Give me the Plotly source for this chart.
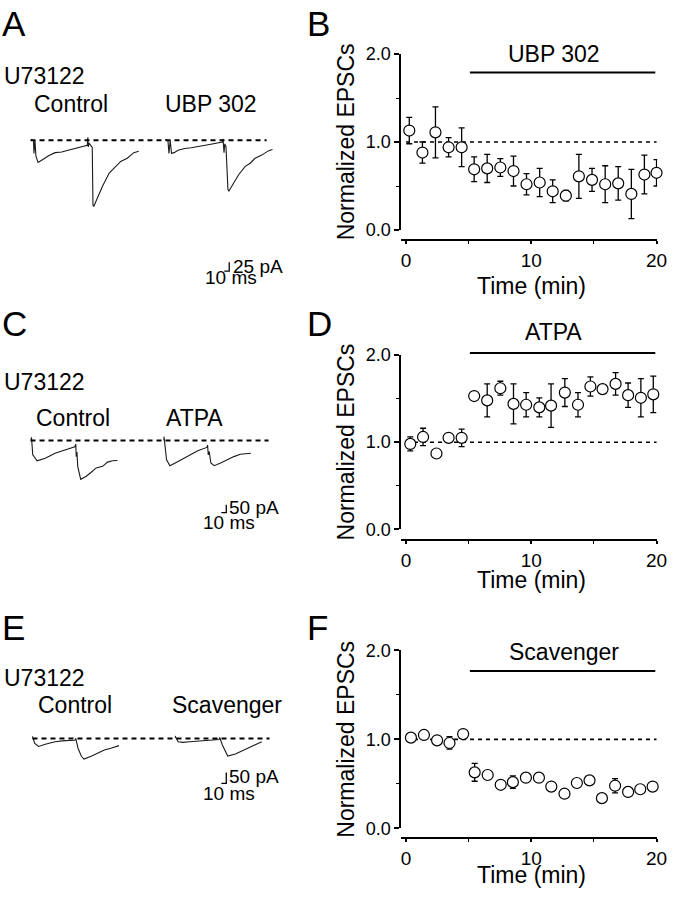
import plotly.graph_objects as go

W, H = 677, 900
FONT = "Liberation Sans, Arial, sans-serif"

# ---------------- EPSC time courses (normalized, mean +/- SEM) ----------------
UBP_TIME = [0.26, 1.31, 2.35, 3.40, 4.44, 5.44, 6.48, 7.53, 8.58, 9.62,
            10.67, 11.71, 12.76, 13.80, 14.85, 15.90, 16.94, 17.99, 19.03, 20.0]
UBP_MEAN = [1.13, 0.88, 1.11, 0.94, 0.94, 0.69, 0.70, 0.71, 0.67, 0.52,
            0.54, 0.44, 0.39, 0.61, 0.57, 0.52, 0.53, 0.41, 0.63, 0.65]
UBP_SEM = [0.15, 0.12, 0.29, 0.11, 0.22, 0.14, 0.16, 0.10, 0.17, 0.12,
           0.16, 0.13, 0.06, 0.25, 0.13, 0.21, 0.19, 0.28, 0.22, 0.15]

ATPA_TIME = [0.34, 1.36, 2.43, 3.40, 4.44, 5.44, 6.48, 7.53, 8.58, 9.59,
             10.64, 11.58, 12.68, 13.73, 14.72, 15.69, 16.73, 17.73, 18.75, 19.74]
ATPA_MEAN = [0.98, 1.06, 0.87, 1.05, 1.05, 1.53, 1.48, 1.62, 1.44, 1.43,
             1.40, 1.42, 1.57, 1.43, 1.64, 1.61, 1.67, 1.54, 1.51, 1.55]
ATPA_SEM = [0.08, 0.10, 0.02, 0.02, 0.10, 0.02, 0.19, 0.08, 0.23, 0.14,
            0.11, 0.25, 0.16, 0.14, 0.11, 0.02, 0.13, 0.14, 0.22, 0.21]

SCAV_TIME = [0.39, 1.43, 2.48, 3.47, 4.56, 5.48, 6.52, 7.56, 8.53, 9.57,
             10.61, 11.60, 12.65, 13.64, 14.65, 15.64, 16.69, 17.73, 18.70, 19.69]
SCAV_MEAN = [1.02, 1.05, 0.99, 0.96, 1.06, 0.63, 0.60, 0.49, 0.52, 0.57,
             0.57, 0.47, 0.39, 0.51, 0.54, 0.34, 0.48, 0.41, 0.44, 0.47]
SCAV_SEM = [0.02, 0.04, 0.02, 0.07, 0.02, 0.10, 0.02, 0.02, 0.07, 0.02,
            0.02, 0.02, 0.02, 0.02, 0.02, 0.02, 0.08, 0.05, 0.02, 0.02]

DRUG_START, DRUG_END = 5.1, 19.9      # min, drug application window
BASELINE_NORM = 1.0
TIME_LIMITS = [0, 20]
X_TICKS = [0, 10, 20]
Y_TICKS = [0.0, 1.0, 2.0]

# ---------------- Example sweeps (time in ms, current in pA) ----------------
A_CTRL_T = [0, 6, 7, 9, 11, 15.4, 23.4, 36.6, 50, 63.4, 76.6, 90, 103.4, 115.4,
            116.6, 117.6, 119, 125.5, 127, 128.6, 136.6, 146.6, 160, 170, 183.4,
            196.6, 210, 220]
A_CTRL_I = [2, 0, -37, 0, -45, -63, -56, -44, -35, -33, -28, -23, -19, -14,
            9, -19, -8, -20, -185, -188, -162, -130, -93, -79, -60,
            -51, -35, -31]
A_UBP_T = [0, 6, 8, 10.6, 13.2, 18.6, 26.6, 40, 53.2, 73.2, 93.2, 116.6, 118,
           120, 121.6, 124, 128, 130, 140, 150, 163.2, 173.2, 183.2, 196.6, 210, 218.6]
A_UBP_I = [2, 0, -37, 0, -37, -35, -28, -23, -21, -17, -11, -5, 4,
           -35, -10, -18, -140, -144, -121, -97, -74, -65, -51, -42, -30, -26]

C_CTRL_T = [0, 2, 4.6, 13.4, 30, 50, 70, 90, 92, 93, 94.4, 96, 102, 113.4,
            123.4, 133.4, 146.6, 156.6, 166.6, 176.6]
C_CTRL_I = [0, 20, -92, -130, -113, -81, -61, -40, -23, -103, -73, -165, -248, -228,
            -203, -175, -165, -138, -129, -128]
C_ATPA_T = [0, 1.4, 6.6, 13.4, 30, 50, 70, 88.6, 90, 91.4, 93.4, 96.6, 103.4,
            116.6, 130, 143.4, 156.6, 170, 178]
C_ATPA_I = [0, 25, -123, -161, -134, -98, -65, -44, -29, -92, -71, -144, -161,
            -144, -123, -103, -88, -81, -81]

E_CTRL_T = [0, 0.6, 5.2, 13.2, 26.6, 46.6, 66.6, 86.6, 88.6, 93.2, 100, 105.2,
            120, 133.2, 146.6, 160, 176.6]
E_CTRL_I = [3, 9, -23, -37, -27, -15, -10, -8, 0, -45, -82, -95,
            -82, -68, -53, -45, -33]
E_SCAV_T = [0, 0.6, 6.6, 16.6, 30, 50, 70, 90, 91.2, 96.6, 103.2, 107.6,
            123.2, 136.6, 150, 163.2, 176.6]
E_SCAV_I = [3, 11, -15, -18, -15, -10, -8, -5, 5, -30, -60, -81,
            -72, -57, -42, -27, -15]

SCALE_MS = 10
SCALE_PA = [25, 50, 50]

# ---------------- layout helpers ----------------
def px_x(x):
    return x / W


def px_y(y):
    return 1 - y / H


layout = dict(width=W, height=H, margin=dict(l=0, r=0, t=0, b=0),
              paper_bgcolor="white", plot_bgcolor="rgba(0,0,0,0)",
              showlegend=False, font=dict(family=FONT, color="black"))
fig = go.Figure()
annotations = []
shapes = []


def txt(x, y, s, size, xanchor="left", angle=0):
    annotations.append(dict(
        x=px_x(x), y=px_y(y), xref="paper", yref="paper",
        text=s, showarrow=False, xanchor=xanchor, yanchor="middle",
        textangle=angle, font=dict(family=FONT, size=size, color="black")))


# EPSC panels -----------------------------------------------------------
epsc_rows = [
    # (time, mean, sem, drug, y0px, y2px, xline_px, bar_px, label_px, label_x, title_px)
    (UBP_TIME, UBP_MEAN, UBP_SEM, "UBP 302", 225, 45, 235, 64, 45.5, 11.8, 282),
    (ATPA_TIME, ATPA_MEAN, ATPA_SEM, "ATPA", 531, 353, 542, 350.7, 329, 11.8, 583),
    (SCAV_TIME, SCAV_MEAN, SCAV_SEM, "Scavenger", 837, 655, 847, 676, 657, 12.6, 885),
]
X_LEFT_PX, X_RIGHT_PX = 407, 667

for i, (t, m, s, drug, y0px, y2px, xline, barpx, labpx, labx, titlepx) in enumerate(epsc_rows):
    n = i + 1
    sfx = "" if n == 1 else str(n)
    xa, ya = "x" + sfx, "y" + sfx
    layout["xaxis" + sfx] = dict(
        domain=[px_x(X_LEFT_PX), px_x(X_RIGHT_PX)], range=[-0.37, 20.05],
        anchor="free", position=px_y(xline),
        showline=True, linewidth=2, linecolor="black", mirror=False,
        ticks="outside", ticklen=3, tickwidth=1.5, tickcolor="black",
        tickmode="array", tickvals=X_TICKS, ticktext=[str(v) for v in X_TICKS],
        tickfont=dict(family=FONT, size=19, color="black"),
        ticklabeloverflow="allow",
        minor=dict(tickvals=[5, 15], ticks="outside", ticklen=3, tickwidth=1.2,
                   tickcolor="black"),
        showgrid=False, zeroline=False, fixedrange=True)
    layout["yaxis" + sfx] = dict(
        domain=[px_y(y0px), px_y(y2px)], range=[0, 2], anchor=xa,
        showline=True, linewidth=2, linecolor="black",
        ticks="outside", ticklen=5, tickwidth=1.5, tickcolor="black",
        tickmode="array", tickvals=Y_TICKS, ticktext=["%.1f" % v for v in Y_TICKS],
        tickfont=dict(family=FONT, size=18, color="black"),
        ticklabeloverflow="allow",
        minor=dict(tickvals=[0.5, 1.5], ticks="outside", ticklen=3, tickwidth=1.2,
                   tickcolor="black"),
        showgrid=False, zeroline=False, fixedrange=True)
    # baseline dashed line
    fig.add_trace(go.Scatter(x=TIME_LIMITS, y=[BASELINE_NORM] * 2, mode="lines",
                             xaxis=xa, yaxis=ya, hoverinfo="skip",
                             line=dict(color="black", width=1.6, dash="4px,4px")))
    fig.add_trace(go.Scatter(
        x=t, y=m, mode="markers", xaxis=xa, yaxis=ya, cliponaxis=False,
        error_y=dict(type="data", array=s, visible=True, color="black",
                     thickness=1.3, width=3),
        marker=dict(symbol="circle", size=11, color="white",
                    line=dict(color="black", width=1.2))))
    # drug application bar and label
    shapes.append(dict(type="line", xref=xa, yref="paper", x0=DRUG_START, x1=DRUG_END,
                       y0=px_y(barpx), y1=px_y(barpx),
                       line=dict(color="black", width=2)))
    annotations.append(dict(x=labx, y=px_y(labpx), xref=xa, yref="paper", text=drug,
                            showarrow=False, xanchor="center", yanchor="middle",
                            font=dict(family=FONT, size=23, color="black")))
    txt(351, (y0px + y2px) / 2, "Normalized EPSCs", 23, xanchor="center", angle=-90)
    annotations.append(dict(x=10, y=px_y(titlepx), xref=xa, yref="paper",
                            text="Time (min)", showarrow=False, xanchor="center",
                            yanchor="middle",
                            font=dict(family=FONT, size=23, color="black")))

# Sweep panels -------------------------------------------------------------
MS_PER_PX = 2.0
sweep_rows = [
    # ctrl, drug, pA/px, base_px, ctrl_x0, drug_x0, top, bot, dash_x, scale corner (ms,pA)
    ((A_CTRL_T, A_CTRL_I), (A_UBP_T, A_UBP_I), 2.78, 133.3, 30, 166.7, 110, 280, (30, 270),
     (130.6, -371.7)),
    ((C_CTRL_T, C_CTRL_I), (C_ATPA_T, C_ATPA_I), 6.25, 440.3, 30, 165, 420, 520, (30, 272),
     (128, -460.6)),
    ((E_CTRL_T, E_CTRL_I), (E_SCAV_T, E_SCAV_I), 4.5, 745, 31.7, 176.7, 730, 800, (32, 273),
     (104.6, -207)),
]
SWEEP_W_PX = 135

for r, (ctrl, drug, papp, base, cx0, dx0, top, bot, dashx, corner) in enumerate(sweep_rows):
    for k, (x0px, (tt, ii)) in enumerate([(cx0, ctrl), (dx0, drug)]):
        n = 4 + 2 * r + k
        xa, ya = "x%d" % n, "y%d" % n
        layout["xaxis%d" % n] = dict(
            domain=[px_x(x0px), px_x(x0px + SWEEP_W_PX)],
            range=[0, SWEEP_W_PX * MS_PER_PX], anchor=ya, visible=False,
            fixedrange=True)
        layout["yaxis%d" % n] = dict(
            domain=[px_y(bot), px_y(top)],
            range=[-(bot - base) * papp, (base - top) * papp], anchor=xa,
            visible=False, fixedrange=True)
        fig.add_trace(go.Scatter(x=tt, y=ii, mode="lines", xaxis=xa, yaxis=ya,
                                 hoverinfo="skip",
                                 line=dict(color="#1a1a1a", width=1.1)))
        if k == 0:
            shapes.append(dict(type="line", xref="paper", yref=ya,
                               x0=px_x(dashx[0]), x1=px_x(dashx[1]), y0=0, y1=0,
                               line=dict(color="black", width=2, dash="5px,4px")))
        else:
            ct, ci = corner
            fig.add_trace(go.Scatter(
                x=[ct - SCALE_MS, ct, ct], y=[ci, ci, ci + SCALE_PA[r]],
                mode="lines", xaxis=xa, yaxis=ya, hoverinfo="skip",
                line=dict(color="black", width=1.3)))

# Text labels ---------------------------------------------------------------
letters = [("A", 0, 14), ("B", 310, 14), ("C", 0, 321), ("D", 310, 321),
           ("E", 0, 632), ("F", 310, 632)]
for s, x, y in letters:
    txt(x - 1, y, s, 35)

txt(1, 67, "U73122", 23)
txt(32, 96.5, "Control", 23)
txt(165, 96.5, "UBP 302", 23)
txt(234, 262, "25 pA", 19)
txt(205, 274, "10 ms", 19)

txt(1, 380, "U73122", 23)
txt(34, 417, "Control", 23)
txt(166, 417, "ATPA", 23)
txt(230, 509, "50 pA", 19)
txt(203, 524, "10 ms", 19)

txt(1, 683, "U73122", 23)
txt(36, 711, "Control", 23)
txt(172, 711, "Scavenger", 23)
txt(230, 784, "50 pA", 19)
txt(203, 801, "10 ms", 19)

layout["annotations"] = annotations
layout["shapes"] = shapes
fig.update_layout(**layout)
fig.write_html("out.html",
               config={"displayModeBar": False},
               post_script="document.body.style.margin='0px';"
                           "document.body.style.overflow='hidden';")
